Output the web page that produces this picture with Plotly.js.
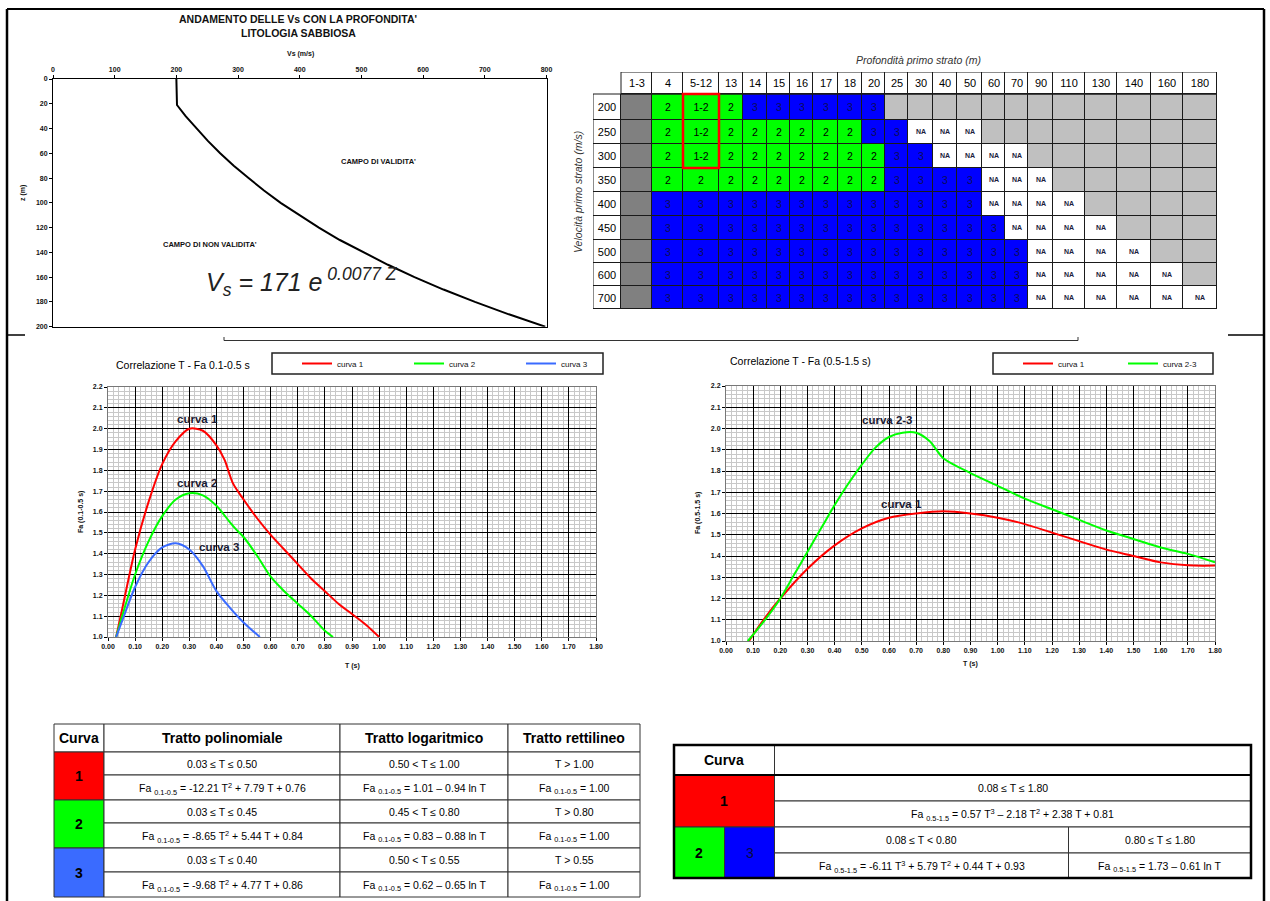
<!DOCTYPE html>
<html><head><meta charset="utf-8">
<script src="https://cdn.plot.ly/plotly-3.0.1.min.js"></script>
<style>html,body{margin:0;padding:0;background:#fff}#chart{width:1270px;height:901px}</style>
</head><body><div id="chart"></div>
<script>
// ================= DATA =================
// Vs profile with depth
const vsDepth = [0, 21, 30, 40, 50, 60, 70, 80, 90, 100, 110, 120, 130, 140, 150, 160, 170, 180, 190, 200];
const vsVel   = [200, 201, 215, 233, 251, 271, 293, 317, 342, 369, 399, 431, 465, 503, 543, 586, 633, 684, 739, 798];

// Classification grid
const depthLabels = ['1-3','4','5-12','13','14','15','16','17','18','20','25','30','40','50','60','70','90','110','130','140','160','180'];
const velLabels = ['200','250','300','350','400','450','500','600','700'];
// D = dark grey, G = light grey, N = NA, '2', '12' = 1-2, '3'
const gridCodes = [
 ['D','2','12','2','3','3','3','3','3','3','G','G','G','G','G','G','G','G','G','G','G','G'],
 ['D','2','12','2','2','2','2','2','2','3','3','N','N','N','G','G','G','G','G','G','G','G'],
 ['D','2','12','2','2','2','2','2','2','2','3','3','N','N','N','N','G','G','G','G','G','G'],
 ['D','2','2','2','2','2','2','2','2','2','3','3','3','3','N','N','N','G','G','G','G','G'],
 ['D','3','3','3','3','3','3','3','3','3','3','3','3','3','N','N','N','N','G','G','G','G'],
 ['D','3','3','3','3','3','3','3','3','3','3','3','3','3','3','N','N','N','N','G','G','G'],
 ['D','3','3','3','3','3','3','3','3','3','3','3','3','3','3','3','N','N','N','N','G','G'],
 ['D','3','3','3','3','3','3','3','3','3','3','3','3','3','3','3','N','N','N','N','N','G'],
 ['D','3','3','3','3','3','3','3','3','3','3','3','3','3','3','3','N','N','N','N','N','N']
];
const cellText = {D:'', G:'', N:'NA', '2':'2', '12':'1-2', '3':'3'};

// Correlazione T - Fa 0.1-0.5 s
const l1T = [0.03,0.05,0.10,0.15,0.20,0.25,0.30,0.35,0.40,0.43,0.46,0.50,0.55,0.60,0.65,0.70,0.75,0.80,0.85,0.90,0.95,1.00];
const l1F = [1.00,1.12,1.42,1.65,1.83,1.94,2.00,1.99,1.92,1.85,1.74,1.66,1.57,1.49,1.42,1.35,1.28,1.22,1.16,1.11,1.06,1.00];
const l2T = [0.03,0.05,0.10,0.15,0.20,0.25,0.30,0.35,0.40,0.45,0.47,0.50,0.55,0.60,0.65,0.70,0.75,0.80,0.83];
const l2F = [1.00,1.09,1.30,1.46,1.58,1.66,1.69,1.68,1.63,1.55,1.52,1.48,1.39,1.29,1.22,1.16,1.10,1.03,1.00];
const l3T = [0.03,0.05,0.10,0.15,0.20,0.25,0.30,0.35,0.40,0.45,0.50,0.56];
const l3F = [1.00,1.07,1.24,1.36,1.43,1.45,1.42,1.34,1.22,1.14,1.07,1.00];

// Correlazione T - Fa (0.5-1.5 s)
const r1T = [0.08,0.10,0.15,0.20,0.30,0.40,0.50,0.60,0.70,0.80,0.90,1.00,1.10,1.20,1.30,1.40,1.50,1.60,1.70,1.80];
const r1F = [0.99,1.03,1.12,1.20,1.34,1.45,1.53,1.58,1.60,1.61,1.60,1.58,1.55,1.51,1.47,1.43,1.40,1.37,1.356,1.355];
const r2T = [0.08,0.10,0.15,0.20,0.25,0.30,0.35,0.40,0.45,0.50,0.55,0.60,0.65,0.70,0.75,0.80,0.90,1.00,1.10,1.20,1.30,1.40,1.50,1.60,1.70,1.80];
const r2F = [1.00,1.03,1.11,1.20,1.31,1.42,1.53,1.64,1.74,1.83,1.91,1.96,1.98,1.98,1.94,1.86,1.79,1.73,1.67,1.62,1.57,1.52,1.48,1.44,1.41,1.37];

// Table 0.1-0.5 s
const t1Headers = ['Curva','Tratto polinomiale','Tratto logaritmico','Tratto rettilineo'];
const t1Curves = ['1','2','3'];
const t1Ranges = [
 ['0.03 ≤ T ≤ 0.50','0.50 < T ≤ 1.00','T > 1.00'],
 ['0.03 ≤ T ≤ 0.45','0.45 < T ≤ 0.80','T > 0.80'],
 ['0.03 ≤ T ≤ 0.40','0.50 < T ≤ 0.55','T > 0.55']
];
const t1Formulas = [
 ['Fa <sub>0.1-0.5</sub> = -12.21 T<sup>2</sup> + 7.79 T + 0.76','Fa <sub>0.1-0.5</sub> = 1.01 – 0.94 ln T','Fa <sub>0.1-0.5</sub> = 1.00'],
 ['Fa <sub>0.1-0.5</sub> = -8.65 T<sup>2</sup> + 5.44 T + 0.84','Fa <sub>0.1-0.5</sub> = 0.83 – 0.88 ln T','Fa <sub>0.1-0.5</sub> = 1.00'],
 ['Fa <sub>0.1-0.5</sub> = -9.68 T<sup>2</sup> + 4.77 T + 0.86','Fa <sub>0.1-0.5</sub> = 0.62 – 0.65 ln T','Fa <sub>0.1-0.5</sub> = 1.00']
];
// Table 0.5-1.5 s
const t2Header = 'Curva';
const t2Curves = ['1','2','3'];
const t2Range1 = '0.08 ≤ T ≤ 1.80';
const t2Formula1 = 'Fa <sub>0.5-1.5</sub> = 0.57 T<sup>3</sup> – 2.18 T<sup>2</sup> + 2.38 T + 0.81';
const t2Ranges23 = ['0.08 ≤ T < 0.80','0.80 ≤ T ≤ 1.80'];
const t2Formulas23 = ['Fa <sub>0.5-1.5</sub> = -6.11 T<sup>3</sup> + 5.79 T<sup>2</sup> + 0.44 T + 0.93','Fa <sub>0.5-1.5</sub> = 1.73 – 0.61 ln T'];

// ================= LAYOUT HELPERS =================
const W = 1270, H = 901;
const px = x => x / W, py = y => 1 - y / H;
const FONT = 'Liberation Sans, Arial, Helvetica, sans-serif';
const RED = '#ff0000', GREEN = '#00ff00', BLUE = '#0000ff', LBLUE = '#3a6bff';

// grid geometry (pixels)
const gColEdges = [621,652,683,719,743,767,790,813,838,862,885,908,933,957,982,1005,1028,1053,1085,1117,1151,1183,1217];
const gRowEdges = [94,120,144,168,192,216,240,263,286,309];
const gHeadEdges = [72,94];
const gLabEdges = [593,621];

const traces = [];
const shapes = [];
const ann = [];

// ---- Vs profile ----
traces.push({type:'scatter', mode:'lines', x: vsVel, y: vsDepth, xaxis:'x', yaxis:'y',
  line:{color:'#000', width:2}, showlegend:false, hoverinfo:'skip'});

// ---- grid heatmaps ----
const cats = [
  {codes:['D'], color:'#808080', font:{size:10, color:'#000', family:FONT}},
  {codes:['G'], color:'#c0c0c0', font:{size:10, color:'#000', family:FONT}},
  {codes:['N'], color:'#ffffff', font:{size:7, color:'#1c1c40', family:FONT, weight:'bold'}},
  {codes:['2','12'], color:GREEN, font:{size:10.5, color:'#000', family:FONT}},
  {codes:['3'], color:BLUE, font:{size:10.5, color:'#0c0c58', family:FONT}}
];
cats.forEach(c => {
  traces.push({type:'heatmap', xaxis:'x2', yaxis:'y2', x: gColEdges, y: gRowEdges,
    z: gridCodes.map(r => r.map(v => c.codes.includes(v) ? 1 : null)),
    text: gridCodes.map(r => r.map(v => c.codes.includes(v) ? cellText[v] : '')),
    texttemplate:'%{text}', textfont:c.font,
    colorscale:[[0,c.color],[1,c.color]], zmin:0, zmax:1, showscale:false,
    xgap:1, ygap:1, hoverinfo:'skip'});
});
traces.push({type:'heatmap', xaxis:'x2', yaxis:'y2', x: gColEdges, y: gHeadEdges,
  z:[depthLabels.map(() => 1)], text:[depthLabels], texttemplate:'%{text}',
  textfont:{size:11, color:'#000', family:FONT},
  colorscale:[[0,'#fff'],[1,'#fff']], zmin:0, zmax:1, showscale:false, xgap:1, ygap:1, hoverinfo:'skip'});
traces.push({type:'heatmap', xaxis:'x2', yaxis:'y2', x: gLabEdges, y: gRowEdges,
  z: velLabels.map(() => [1]), text: velLabels.map(v => [v]), texttemplate:'%{text}',
  textfont:{size:11, color:'#000', family:FONT},
  colorscale:[[0,'#fff'],[1,'#fff']], zmin:0, zmax:1, showscale:false, xgap:1, ygap:1, hoverinfo:'skip'});
// black background under grid (shows through gaps) and outlines
shapes.push({type:'rect', xref:'x2', yref:'y2', x0:593, x1:1217, y0:94, y1:309, fillcolor:'#1a1a1a', line:{width:0}, layer:'below'});
shapes.push({type:'rect', xref:'x2', yref:'y2', x0:621, x1:1217, y0:72, y1:94, fillcolor:'#1a1a1a', line:{width:0}, layer:'below'});
shapes.push({type:'rect', xref:'x2', yref:'y2', x0:593, x1:1217, y0:94, y1:309, line:{color:'#1a1a1a', width:1}});
shapes.push({type:'rect', xref:'x2', yref:'y2', x0:621, x1:1217, y0:72, y1:94, line:{color:'#1a1a1a', width:1}});
// red frame on 5-12 column, rows 200-300
shapes.push({type:'rect', xref:'x2', yref:'y2', x0:gColEdges[2], x1:gColEdges[3], y0:gRowEdges[0], y1:gRowEdges[3], line:{color:RED, width:2.5}});

// ---- Correlation charts ----
[[l1T,l1F,RED,'curva 1'],[l2T,l2F,GREEN,'curva 2'],[l3T,l3F,LBLUE,'curva 3']].forEach(s => {
  traces.push({type:'scatter', mode:'lines', x:s[0], y:s[1], name:s[3], xaxis:'x3', yaxis:'y3',
    line:{color:s[2], width:2, shape:'spline', smoothing:0.8}, legend:'legend', hoverinfo:'skip'});
});
[[r1T,r1F,RED,'curva 1'],[r2T,r2F,GREEN,'curva 2-3']].forEach(s => {
  traces.push({type:'scatter', mode:'lines', x:s[0], y:s[1], name:s[3], xaxis:'x4', yaxis:'y4',
    line:{color:s[2], width:2, shape:'spline', smoothing:0.8}, legend:'legend2', hoverinfo:'skip'});
});

// ---- Tables (axes in pixel units) ----
const LC = '#333';
function cell(xr, yr, x0, x1, y0, y1, fill, lw) {
  shapes.push({type:'rect', xref:xr, yref:yr, x0, x1, y0, y1, fillcolor: fill || 'rgba(0,0,0,0)', line:{color:LC, width: lw || 1}, layer:'below'});
}
function txt(xr, yr, x, y, t, size, bold, color) {
  ann.push({xref:xr, yref:yr, x, y, text: bold ? '<b>'+t+'</b>' : t, showarrow:false,
    xanchor:'center', yanchor:'middle', font:{family:FONT, size, color: color || '#000'}});
}
// table 1
const T1x = [54,104,340,508,640];
const T1y = [724,752,775,800,823,848,872,897];
const t1Colors = [RED, GREEN, LBLUE];
t1Headers.forEach((h,c) => {
  cell('x5','y5',T1x[c],T1x[c+1],T1y[0],T1y[1],'#fff');
  txt('x5','y5',(T1x[c]+T1x[c+1])/2,(T1y[0]+T1y[1])/2,h,14,true);
});
t1Curves.forEach((k,i) => {
  const ya = T1y[1+2*i], yb = T1y[2+2*i], yc = T1y[3+2*i];
  cell('x5','y5',T1x[0],T1x[1],ya,yc,t1Colors[i]);
  txt('x5','y5',(T1x[0]+T1x[1])/2,(ya+yc)/2,k,14,true);
  for (let c = 0; c < 3; c++) {
    cell('x5','y5',T1x[c+1],T1x[c+2],ya,yb,'#fff');
    cell('x5','y5',T1x[c+1],T1x[c+2],yb,yc,'#fff');
    txt('x5','y5',(T1x[c+1]+T1x[c+2])/2,(ya+yb)/2,t1Ranges[i][c],10.5,false);
    txt('x5','y5',(T1x[c+1]+T1x[c+2])/2,(yb+yc)/2+1,t1Formulas[i][c],10.5,false);
  }
});
// table 2
const T2x = [674,724.5,774.5,1068.5,1251];
const T2y = [745,775,801,827,853,878];
cell('x6','y6',T2x[0],T2x[2],T2y[0],T2y[1],'#fff');
cell('x6','y6',T2x[2],T2x[4],T2y[0],T2y[1],'#fff');
txt('x6','y6',(T2x[0]+T2x[2])/2,(T2y[0]+T2y[1])/2,t2Header,14,true);
cell('x6','y6',T2x[0],T2x[2],T2y[1],T2y[3],RED);
txt('x6','y6',(T2x[0]+T2x[2])/2,(T2y[1]+T2y[3])/2,t2Curves[0],14,true);
cell('x6','y6',T2x[2],T2x[4],T2y[1],T2y[2],'#fff');
cell('x6','y6',T2x[2],T2x[4],T2y[2],T2y[3],'#fff');
txt('x6','y6',(T2x[2]+T2x[4])/2,(T2y[1]+T2y[2])/2,t2Range1,10.5,false);
txt('x6','y6',(T2x[2]+T2x[4])/2,(T2y[2]+T2y[3])/2+1,t2Formula1,10.5,false);
cell('x6','y6',T2x[0],T2x[1],T2y[3],T2y[5],GREEN);
cell('x6','y6',T2x[1],T2x[2],T2y[3],T2y[5],BLUE);
txt('x6','y6',(T2x[0]+T2x[1])/2,(T2y[3]+T2y[5])/2,t2Curves[1],14,true);
txt('x6','y6',(T2x[1]+T2x[2])/2,(T2y[3]+T2y[5])/2,t2Curves[2],14,false,'#0a0a40');
[[T2x[2],T2x[3]],[T2x[3],T2x[4]]].forEach((xx,j) => {
  cell('x6','y6',xx[0],xx[1],T2y[3],T2y[4],'#fff');
  cell('x6','y6',xx[0],xx[1],T2y[4],T2y[5],'#fff');
  txt('x6','y6',(xx[0]+xx[1])/2,(T2y[3]+T2y[4])/2,t2Ranges23[j],10.5,false);
  txt('x6','y6',(xx[0]+xx[1])/2,(T2y[4]+T2y[5])/2+1,t2Formulas23[j],10.5,false);
});
shapes.push({type:'line', xref:'x6', yref:'y6', x0:T2x[0], x1:T2x[4], y0:T2y[1], y1:T2y[1], line:{color:'#000', width:2}});
shapes.push({type:'rect', xref:'x6', yref:'y6', x0:T2x[0], x1:T2x[4], y0:T2y[0], y1:T2y[5], line:{color:'#000', width:2.5}});

// ---- Page frame & separators (paper) ----
function pline(x0,y0,x1,y1,w,c){ shapes.push({type:'line', xref:'paper', yref:'paper', x0:px(x0), y0:py(y0), x1:px(x1), y1:py(y1), line:{color:c||'#000', width:w}}); }
pline(7,9,1264,9,2);
pline(7,9,7,901,2.5);
pline(1264,9,1264,901,2.5);
pline(7,335,25,335,1.5);
pline(1228,335,1265,335,1.5);
pline(224,337,224,340.5,1,'#333');
pline(224,340.5,1078,340.5,1.2,'#333');
pline(1078,337,1078,340.5,1,'#333');
// legend boxes
shapes.push({type:'rect', xref:'paper', yref:'paper', x0:px(272), x1:px(603), y0:py(374), y1:py(353), line:{color:'#222', width:1.5}});
shapes.push({type:'rect', xref:'paper', yref:'paper', x0:px(993), x1:px(1213), y0:py(374), y1:py(353), line:{color:'#222', width:1.5}});

// ---- Annotations ----
function pann(x, y, t, size, opts) {
  ann.push(Object.assign({xref:'paper', yref:'paper', x:px(x), y:py(y), text:t, showarrow:false,
    xanchor:'center', yanchor:'middle', font:{family:FONT, size, color:'#111'}}, opts || {}));
}
pann(298, 18.5, "<b>ANDAMENTO DELLE Vs CON LA PROFONDITA'</b>", 10.5);
pann(298, 33, '<b>LITOLOGIA SABBIOSA</b>', 10.5);
pann(300, 54, '<b>Vs (m/s)</b>', 7);
pann(23, 193, '<b>z (m)</b>', 7, {textangle:-90});
ann.push({xref:'x', yref:'y', x:527, y:67, text:"<b>CAMPO DI VALIDITA'</b>", showarrow:false, font:{family:FONT, size:7.5, color:'#111'}});
ann.push({xref:'x', yref:'y', x:255, y:134, text:"<b>CAMPO DI NON VALIDITA'</b>", showarrow:false, font:{family:FONT, size:7.5, color:'#111'}});
ann.push({xref:'x', yref:'y', x:244, y:164, xanchor:'left', yanchor:'middle', text:'<i>V<sub>s</sub> = 171 e<sup> 0.0077 Z</sup></i>', showarrow:false, font:{family:FONT, size:25, color:'#222'}});
pann(918, 60, '<i>Profondità primo strato (m)</i>', 10.5, {font:{family:FONT, size:10.5, color:'#333'}});
pann(578, 192, '<i>Velocità primo strato (m/s)</i>', 10.5, {textangle:-90, font:{family:FONT, size:10.5, color:'#333'}});

pann(114, 365, 'Correlazione T - Fa 0.1-0.5 s', 10.5, {xanchor:'left', font:{family:FONT, size:10.5, color:'#000'}});
pann(728, 361, 'Correlazione T - Fa (0.5-1.5 s)', 10.5, {xanchor:'left', font:{family:FONT, size:10.5, color:'#000'}});
pann(352, 666, '<b>T (s)</b>', 7);
pann(970, 664, '<b>T (s)</b>', 7);
pann(81, 512, '<b>Fa (0.1-0.5 s)</b>', 7, {textangle:-90});
pann(698, 513, '<b>Fa (0.5-1.5 s)</b>', 7, {textangle:-90});
const LBL = {family:FONT, size:11.5, color:'#1a1a33'};
ann.push({xref:'x3', yref:'y3', x:0.33, y:2.045, text:'<b>curva 1</b>', showarrow:false, font:LBL});
ann.push({xref:'x3', yref:'y3', x:0.33, y:1.74, text:'<b>curva 2</b>', showarrow:false, font:LBL});
ann.push({xref:'x3', yref:'y3', x:0.41, y:1.43, text:'<b>curva 3</b>', showarrow:false, font:LBL});
ann.push({xref:'x4', yref:'y4', x:0.595, y:2.04, text:'<b>curva 2-3</b>', showarrow:false, font:LBL});
ann.push({xref:'x4', yref:'y4', x:0.647, y:1.645, text:'<b>curva 1</b>', showarrow:false, font:LBL});

// ---- Axes ----
const TF = {family:FONT, size:7, color:'#111', weight:'bold'};
function chartAxes(xd, yd, xa, ya) {
  const common = {showgrid:true, gridcolor:'#000', gridwidth:1, ticks:'outside', ticklen:3, tickcolor:'#000',
    showline:true, mirror:true, linecolor:'#777', linewidth:1, zeroline:false, tickfont:TF, fixedrange:true};
  return [
    Object.assign({}, common, {domain:xd, anchor:ya, range:[0,1.8], dtick:0.1, tick0:0, tickformat:'.2f',
      minor:{dtick:0.02, tick0:0, showgrid:true, gridcolor:'#c8c8c8', gridwidth:1}}),
    Object.assign({}, common, {domain:yd, anchor:xa, range:[1,2.2], dtick:0.1, tick0:1, tickformat:'.1f',
      minor:{dtick:0.02, tick0:1, showgrid:true, gridcolor:'#c8c8c8', gridwidth:1}})
  ];
}
const [x3, y3] = chartAxes([px(108), px(596)], [py(637), py(387)], 'x3', 'y3');
const [x4, y4] = chartAxes([px(726), px(1215)], [py(641), py(386)], 'x4', 'y4');

const layout = {
  width: W, height: H, margin:{l:0, r:0, t:0, b:0},
  paper_bgcolor:'#fff', plot_bgcolor:'rgba(0,0,0,0)',
  font:{family:FONT, color:'#111'},
  xaxis:{domain:[px(53), px(546.5)], anchor:'y', range:[0,800], side:'top', dtick:100, ticks:'outside', ticklen:3,
    tickcolor:'#000', showline:true, mirror:true, linecolor:'#000', linewidth:1, showgrid:false, zeroline:false, tickfont:TF},
  yaxis:{domain:[py(326.7), py(79)], anchor:'x', range:[200,0], dtick:20, ticks:'outside', ticklen:3,
    tickcolor:'#000', showline:true, mirror:true, linecolor:'#000', linewidth:1, showgrid:false, zeroline:false, tickfont:TF},
  xaxis2:{domain:[px(593), px(1217)], anchor:'y2', range:[593,1217], visible:false},
  yaxis2:{domain:[py(309), py(72)], anchor:'x2', range:[309,72], visible:false},
  xaxis3: x3, yaxis3: y3, xaxis4: x4, yaxis4: y4,
  xaxis5:{domain:[px(50), px(644)], anchor:'y5', range:[50,644], visible:false},
  yaxis5:{domain:[py(901), py(718)], anchor:'x5', range:[901,718], visible:false},
  xaxis6:{domain:[px(668), px(1257)], anchor:'y6', range:[668,1257], visible:false},
  yaxis6:{domain:[py(884), py(739)], anchor:'x6', range:[884,739], visible:false},
  legend:{orientation:'h', x:px(297), y:py(363.5), xanchor:'left', yanchor:'middle', bgcolor:'rgba(0,0,0,0)',
    borderwidth:0, font:{family:FONT, size:8, color:'#111'}, entrywidth:67, entrywidthmode:'pixels', itemwidth:30},
  legend2:{orientation:'h', x:px(1018), y:py(363.5), xanchor:'left', yanchor:'middle', bgcolor:'rgba(0,0,0,0)',
    borderwidth:0, font:{family:FONT, size:8, color:'#111'}, entrywidth:60, entrywidthmode:'pixels', itemwidth:30},
  shapes, annotations: ann
};

Plotly.newPlot('chart', traces, layout, {staticPlot:true, displayModeBar:false});
</script></body></html>
